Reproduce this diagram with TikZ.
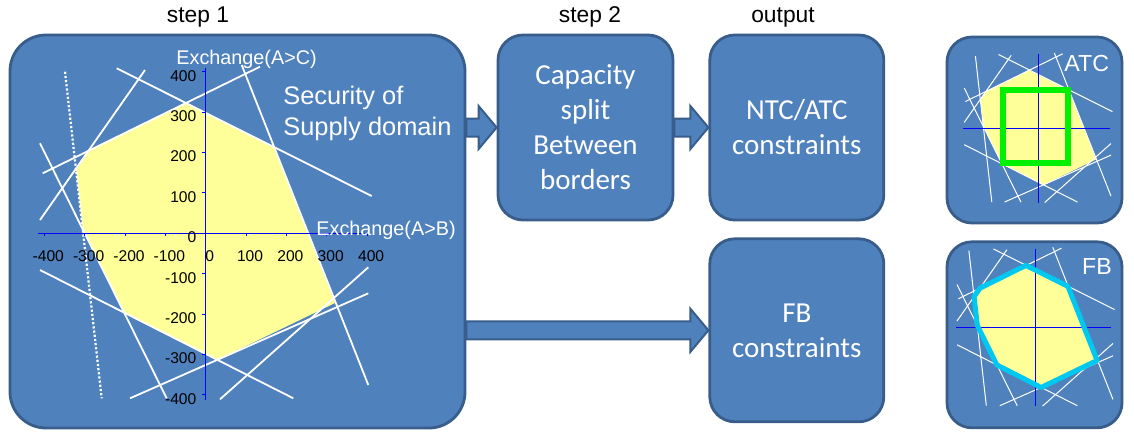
\documentclass[tikz,border=0pt]{standalone}
\usepackage{fontspec}
\setmainfont{Liberation Sans}
\newfontfamily\boxfont{Carlito}
\usetikzlibrary{calc,positioning,backgrounds}
\definecolor{BoxBlue}{RGB}{79,129,189}
\definecolor{BoxEdge}{RGB}{56,93,138}
\definecolor{Domain}{RGB}{255,255,153}
\definecolor{AxisBlue}{RGB}{0,0,255}
\definecolor{AtcGreen}{RGB}{0,240,0}
\definecolor{FbCyan}{RGB}{0,200,240}

\tikzset{
  stage/.style={draw=BoxEdge, line width=1.4pt, fill=BoxBlue, rounded corners=12.5pt,
    text=white, align=center, inner sep=0pt,
    font=\boxfont\fontsize{14.5}{17.5}\selectfont},
  stagetitle/.style={anchor=base, font=\fontsize{11.4}{13}\selectfont},
  flow/.style={fill=BoxBlue, draw=BoxEdge, line width=1pt},
  cut/.style={white, line width=0.9pt},
  cutdots/.style={white, line width=1.1pt, densely dotted},
  axis/.style={AxisBlue, line width=0.5pt},
  numlabel/.style={inner sep=0pt, font=\fontsize{7.8}{9}\selectfont},
  xchg/.style={anchor=base west, inner sep=0pt, text=white, font=\fontsize{9.9}{12}\selectfont},
  iconlabel/.style={text=white, inner sep=0pt, font=\fontsize{11.6}{13}\selectfont},
  domainedge/.style={draw=none},
}

% block arrow from #1 to #2 (tip at #2)
\newcommand\flowarrow[2]{%
  \filldraw[flow] ($(#1)+(0,-9)$) -- ($(#2)+(-18,-9)$) -- ($(#2)+(-18,-21.5)$) -- (#2)
    -- ($(#2)+(-18,21.5)$) -- ($(#2)+(-18,9)$) -- ($(#1)+(0,9)$) -- cycle;}

% security of supply domain, in px of the big chart
\def\domainpath{(185,103) -- (273.5,147) -- (335,303) -- (217,360) -- (124,312.6)
  -- (82.7,229.2) -- (76,168.7) -- (88.4,150.8) -- cycle}
\newcommand\ssdomain{%
  \fill[Domain] \domainpath;
  \draw[cutdots] (65,71.7) -- (101.7,398.3);
  \draw[cut] (40,143.3) -- (166.7,398.3);
  \draw[cut] (40,220) -- (145,70);
  \draw[cut] (42.7,173.3) -- (260,66.7);
  \draw[cut] (116.7,68.3) -- (371.7,196);
  \draw[cut] (241.7,65) -- (368.3,385);
  \draw[cut] (40,270) -- (293.3,398.3);
  \draw[cut] (130,398.3) -- (368.3,293.3);
  \draw[cut] (220,399.3) -- (368.3,267.3);
  \draw[axis] (38,233.3) -- (365,233.3);
  \draw[axis] (205.7,68) -- (205.7,400);
  \path[domainedge] \domainpath;
}

\begin{document}
\begin{tikzpicture}[x=0.5pt, y=-0.5pt]
\useasboundingbox (0,0) rectangle (1134,435);
%titles
\node[stagetitle] (t1) at (198,22.7) {step 1};
\node[stagetitle] (t2) at (590,22.7) {step 2};
\node[stagetitle] (t3) at (783,22.7) {output};
%boxes
\node[stage, rounded corners=18pt, minimum width=227.5pt, minimum height=196.5pt] (ssd) at (237.5,231.5) {};
\node[stage, minimum width=87.5pt, minimum height=92.5pt] (split) at (585.5,127.5) {Capacity\\split\\Between\\borders};
\node[stage, right=17pt of split, minimum width=87pt, minimum height=92.5pt] (ntc) {NTC/ATC\\constraints};
\node[stage, below=8pt of ntc, minimum width=87pt, minimum height=91.5pt] (fb) {FB\\constraints};
\node[stage, minimum width=87.5pt, minimum height=93pt] (atc) at (1034.5,130) {};
\node[stage, below=8pt of atc, minimum width=87.5pt, minimum height=93pt] (fbicon) {};
%arrows
\begin{pgfonlayer}{background}
\coordinate (a1) at (ssd.east |- split.west);
\coordinate (a3) at (ssd.east |- fb.west);
\flowarrow{a1}{split.west}
\flowarrow{split.east}{ntc.west}
\flowarrow{a3}{fb.west}
\end{pgfonlayer}
%chart
\ssdomain
\foreach \k in {-4,...,4}{
  \draw[axis] ({205.7+40.35*\k},233.3) -- ++(0,3);
  \draw[axis] (205.7,{233.3-40.35*\k}) -- ++(-4,0);
  \pgfmathtruncatemacro\v{100*\k}
  \node[numlabel, anchor=base] (nx\v) at ({209.7+40.35*\k},261.7) {\v};
  \node[numlabel, anchor=east] (ny\v) at (196.7,{237.3-40.35*\k}) {\v};
}
\node[xchg] (ac) at (176,64) {Exchange(A>C)};
\node[xchg] (ab) at (316,235) {Exchange(A>B)};
\node[anchor=base west, inner sep=0pt, text=white, align=left, font=\fontsize{12.7}{15.5}\selectfont] (ssdtext) at (283,135) {Security of\\Supply domain};
%icons
\begin{scope}[shift={(1038.3,128.3)}, scale=0.447, shift={(-205.7,-233.3)},
  cut/.style={white, line width=0.5pt}, cutdots/.style={white, line width=0.5pt}]
\ssdomain
\end{scope}
\draw[AtcGreen, line width=3pt] (1003,89.7) rectangle (1068,163);
\node[iconlabel] (atclabel) at (1086.7,63.3) {ATC};
\begin{scope}[shift={(1035.7,327.3)}, scale=0.475, shift={(-205.7,-233.3)},
  cut/.style={white, line width=0.5pt}, cutdots/.style={white, line width=0.5pt},
  domainedge/.style={draw=FbCyan, line width=2.5pt, line join=round}]
\ssdomain
\end{scope}
\node[iconlabel] (fblabel) at (1097,266.7) {FB};
\end{tikzpicture}
\end{document}
